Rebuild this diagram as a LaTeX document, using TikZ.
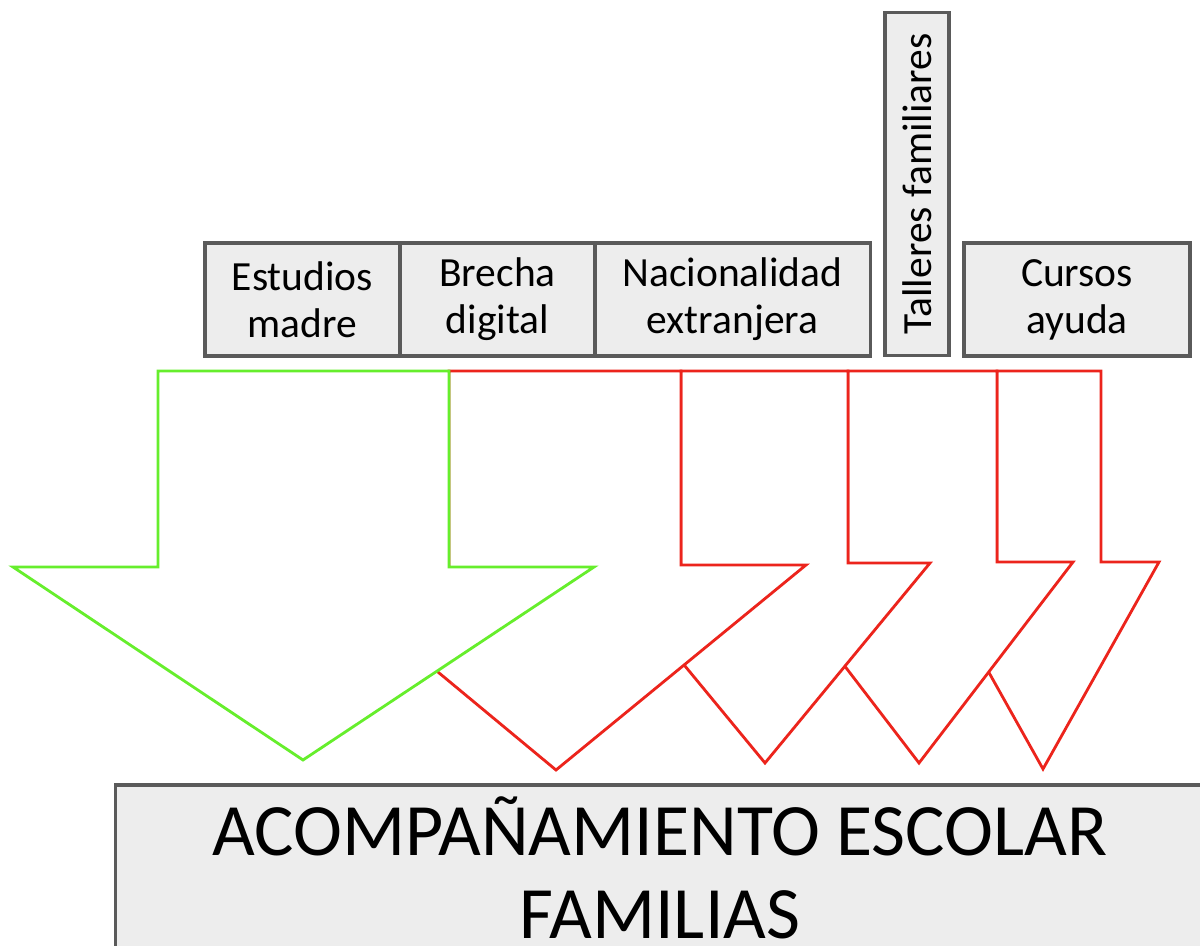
\documentclass[tikz,border=0pt]{standalone}
\usepackage{fontspec}
\setmainfont{Carlito}
\definecolor{boxgray}{RGB}{237,237,237}
\definecolor{edgegray}{RGB}{90,90,90}
\definecolor{arrowred}{RGB}{236,36,28}
\definecolor{arrowgreen}{RGB}{102,238,44}

\begin{document}
\begin{tikzpicture}[x=0.01cm,y=-0.01cm,
    factor/.style={draw=edgegray,fill=boxgray,line width=0.9pt,inner sep=0pt,align=center,font=\fontsize{11.8}{13.4}\selectfont},
    redarrow/.style={draw=arrowred,fill=white,line width=0.8pt},
    greenarrow/.style={draw=arrowgreen,fill=white,line width=0.8pt}]
            \useasboundingbox (0,0) rectangle (1200,946);
            \node[factor,minimum width=1.95cm,minimum height=1.13cm] (estudios) at (302.5,299.5) {Estudios\\madre};
            \node[factor,minimum width=1.95cm,minimum height=1.13cm] (brecha) at (497.5,299.5) {Brecha\\digital};
            \node[factor,minimum width=2.75cm,minimum height=1.13cm] (nacionalidad) at (732.5,299.5) {Nacionalidad\\extranjera};
            \node[factor,rotate=90,minimum width=3.42cm,minimum height=0.64cm] (talleres) at (917,184) {Talleres familiares};
            \node[factor,minimum width=2.26cm,minimum height=1.13cm] (cursos) at (1077,299.5) {Cursos\\ayuda};
            \draw[redarrow] (997,371)--(1101,371)--(1101,562)--(1159,562)--(1043,769)--(927,562)--(997,562)--cycle;
            \draw[redarrow] (848,371)--(997,371)--(997,562)--(1073,562)--(919,763)--(765,562)--(848,562)--cycle;
            \draw[redarrow] (681,371)--(848,371)--(848,563)--(930,563)--(765,763)--(600,563)--(681,563)--cycle;
            \draw[redarrow] (449,371)--(681,371)--(681,565)--(806,565)--(556,770)--(309,565)--(449,565)--cycle;
            \draw[greenarrow] (158,371)--(449,371)--(449,567)--(594,567)--(303,760)--(13,567)--(158,567)--cycle;
            \node[factor,minimum width=10.88cm,minimum height=1.66cm,font=\fontsize{21}{23.5}\selectfont] (acompanamiento) at (660,868) {ACOMPAÑAMIENTO ESCOLAR\\FAMILIAS};
\end{tikzpicture}
\end{document}
